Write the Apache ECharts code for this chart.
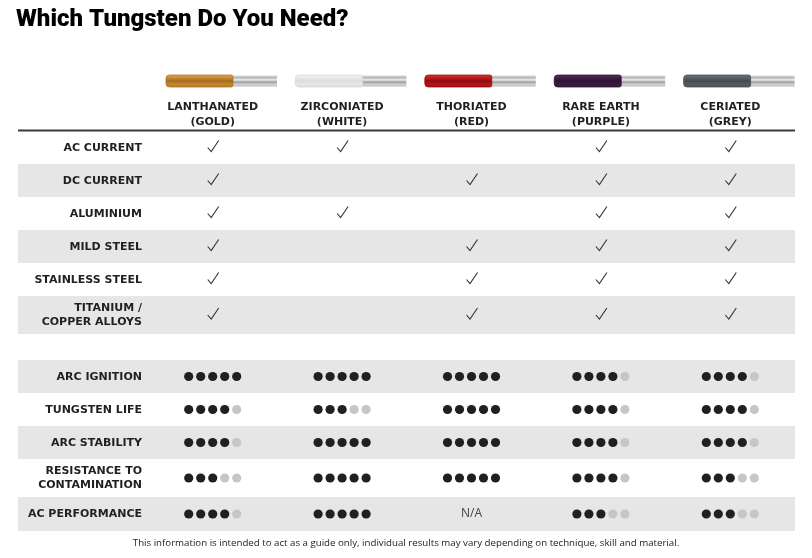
<!DOCTYPE html>
<html><head><meta charset="utf-8">
<script src="https://cdn.jsdelivr.net/npm/echarts@6/dist/echarts.min.js"></script>
<style>html,body{margin:0;padding:0;background:#fff}#c{width:812px;height:558px}</style>
</head><body><div id="c"></div>
<script>
// ---- data ----
const chartTitle = 'Which Tungsten Do You Need?';
const footnote = 'This information is intended to act as a guide only, individual results may vary depending on technique, skill and material.';
const electrodes = ['LANTHANATED\n(GOLD)', 'ZIRCONIATED\n(WHITE)', 'THORIATED\n(RED)', 'RARE EARTH\n(PURPLE)', 'CERIATED\n(GREY)'];

const checkRows = ['AC CURRENT', 'DC CURRENT', 'ALUMINIUM', 'MILD STEEL', 'STAINLESS STEEL', 'TITANIUM /\nCOPPER ALLOYS'];
const acCurrent      = [1, 1, 0, 1, 1];
const dcCurrent      = [1, 0, 1, 1, 1];
const aluminium      = [1, 1, 0, 1, 1];
const mildSteel      = [1, 0, 1, 1, 1];
const stainlessSteel = [1, 0, 1, 1, 1];
const titaniumCopper = [1, 0, 1, 1, 1];

const ratingRows = ['ARC IGNITION', 'TUNGSTEN LIFE', 'ARC STABILITY', 'RESISTANCE TO\nCONTAMINATION', 'AC PERFORMANCE'];
const arcIgnition   = [5, 5, 5, 4, 4];
const tungstenLife  = [4, 3, 5, 4, 4];
const arcStability  = [4, 5, 5, 4, 4];
const resistance    = [3, 5, 5, 4, 3];
const acPerformance = [4, 5, null, 3, 3];
const maxRating = 5;

// ---- layout / style ----
const checkValues = [acCurrent, dcCurrent, aluminium, mildSteel, stainlessSteel, titaniumCopper];
const ratingValues = [arcIgnition, tungstenLife, arcStability, resistance, acPerformance];
const checkHeights = [33, 33, 33, 33, 33, 38];
const sectionGap = 26;
const ratingHeights = [33, 33, 33, 38, 34];
const rodColors = [
  ['#dcaa60', '#c98a35', '#a56c1e', '#c58733', '#b07526'],
  ['#f6f6f6', '#e9e9e9', '#dcdcdc', '#e8e8e8', '#d9d9d9'],
  ['#d63a3a', '#c01a1f', '#8e0b10', '#b4141a', '#9a0e13'],
  ['#55305d', '#422048', '#2d1232', '#3c1c42', '#321537'],
  ['#6d7378', '#5a6066', '#444a50', '#555b61', '#4a5055']
];
const labelFont = 'bold 11px "DejaVu Sans"';
const ink = '#231f20';

// build rows
const bandData = [];
const checkData = [];
const ratingData = [];
let y = 0;
checkRows.forEach((name, r) => {
  const y0 = y, y1 = y + checkHeights[r];
  bandData.push({ value: [0, y0, y1], name: name, shaded: r % 2 === 1 });
  checkValues[r].forEach((v, c) => { if (v) checkData.push([c, y0, y1]); });
  y = y1;
});
y += sectionGap;
ratingRows.forEach((name, r) => {
  const y0 = y, y1 = y + ratingHeights[r];
  bandData.push({ value: [0, y0, y1], name: name, shaded: r % 2 === 0 });
  ratingValues[r].forEach((v, c) => { ratingData.push([c, y0, y1, v == null ? -1 : v]); });
  y = y1;
});
const totalH = y;

const chart = echarts.init(document.getElementById('c'), null, { renderer: 'canvas' });

function renderBand(params, api) {
  const cs = params.coordSys;
  const p0 = api.coord([0, api.value(1)]);
  const p1 = api.coord([0, api.value(2)]);
  const item = bandData[params.dataIndex];
  const left = cs.x - 130, right = cs.x + cs.width;
  const children = [];
  if (item.shaded) {
    children.push({ type: 'rect', shape: { x: left, y: p0[1], width: right - left, height: p1[1] - p0[1] }, style: { fill: '#e6e6e6' } });
  }
  children.push({
    type: 'text',
    style: {
      text: item.name, x: cs.x - 6, y: (p0[1] + p1[1]) / 2 + 0.5,
      textAlign: 'right', textVerticalAlign: 'middle', align: 'right', verticalAlign: 'middle',
      font: labelFont, fill: ink, lineHeight: 14
    }
  });
  if (params.dataIndex === 0) {
    children.push({ type: 'rect', shape: { x: left, y: p0[1] - 1.5, width: right - left, height: 2 }, style: { fill: '#3a3a3a' } });
  }
  return { type: 'group', children: children };
}

function renderCheck(params, api) {
  const c = api.value(0);
  const p = api.coord([c, (api.value(1) + api.value(2)) / 2]);
  const x = p[0], yy = p[1] - 1;
  return {
    type: 'polyline',
    shape: { points: [[x - 5, yy + 1], [x - 1.5, yy + 5], [x + 6, yy - 6]] },
    style: { stroke: '#333', lineWidth: 1.1, fill: null, lineJoin: 'miter' }
  };
}

function renderRating(params, api) {
  const c = api.value(0);
  const v = api.value(3);
  const p = api.coord([c, (api.value(1) + api.value(2)) / 2]);
  if (v < 0) {
    return { type: 'text', style: { text: 'N/A', x: p[0], y: p[1], textAlign: 'center', textVerticalAlign: 'middle', align: 'center', verticalAlign: 'middle', font: '12px "Open Sans"', fill: '#444' } };
  }
  const children = [];
  for (let i = 0; i < maxRating; i++) {
    children.push({
      type: 'circle',
      shape: { cx: p[0] + (i - 2) * 12, cy: p[1], r: 4.6 },
      style: { fill: i < v ? ink : '#c6c6c9' }
    });
  }
  return { type: 'group', children: children };
}

function renderRod(params, api) {
  const c = api.value(0);
  const cs = params.coordSys;
  const p = api.coord([c, 0]);
  const x0 = p[0] - 46.7;
  const top = cs.y - 56, h = 12;
  const col = rodColors[c];
  const colW = 67, tipW = 44;
  const grad = (stops) => new echarts.graphic.LinearGradient(0, 0, 0, 1, stops.map((s, i) => ({ offset: i / (stops.length - 1), color: s })));
  return {
    type: 'group',
    children: [
      { type: 'rect', shape: { x: x0 + colW - 2, y: top + 0.5, width: tipW + 2, height: h - 1 },
        style: { fill: grad(['#dcdcdc', '#b5b5b5', '#ededed', '#9d9d9d', '#d2d2d2', '#bdbdbd']) } },
      { type: 'rect', shape: { x: x0, y: top, width: colW, height: h, r: [3.5, 2, 2, 3.5] },
        style: { fill: grad(col), stroke: col[4], lineWidth: 0.8 } }
    ]
  };
}

chart.setOption({
  animation: false,
  backgroundColor: '#fff',
  title: [
    { text: chartTitle, left: 16, top: 8, padding: 0, textStyle: { fontFamily: 'Roboto', fontWeight: 900, fontSize: 24, color: '#000' } },
    { text: footnote, left: 'center', top: 538, padding: 0, textStyle: { fontFamily: 'Open Sans', fontWeight: 'normal', fontSize: 9.7, color: '#222' } }
  ],
  grid: { left: 148, right: 17, top: 131, height: totalH },
  xAxis: {
    type: 'category', data: electrodes, position: 'top',
    axisLine: { show: false }, axisTick: { show: false }, splitLine: { show: false },
    axisLabel: { fontFamily: 'DejaVu Sans', fontWeight: 'bold', fontSize: 11, color: ink, lineHeight: 15, margin: 1, interval: 0 }
  },
  yAxis: { type: 'value', min: 0, max: totalH, inverse: true, show: false },
  series: [
    { type: 'custom', renderItem: renderBand, data: bandData.map(d => d.value), encode: { x: 0, y: [1, 2] }, z: 1, silent: true },
    { type: 'custom', renderItem: renderCheck, data: checkData, encode: { x: 0, y: [1, 2] }, z: 2, silent: true },
    { type: 'custom', renderItem: renderRating, data: ratingData, encode: { x: 0, y: [1, 2] }, z: 2, silent: true },
    { type: 'custom', renderItem: renderRod, data: electrodes.map((e, i) => [i]), encode: { x: 0 }, z: 3, silent: true }
  ]
});
</script></body></html>
